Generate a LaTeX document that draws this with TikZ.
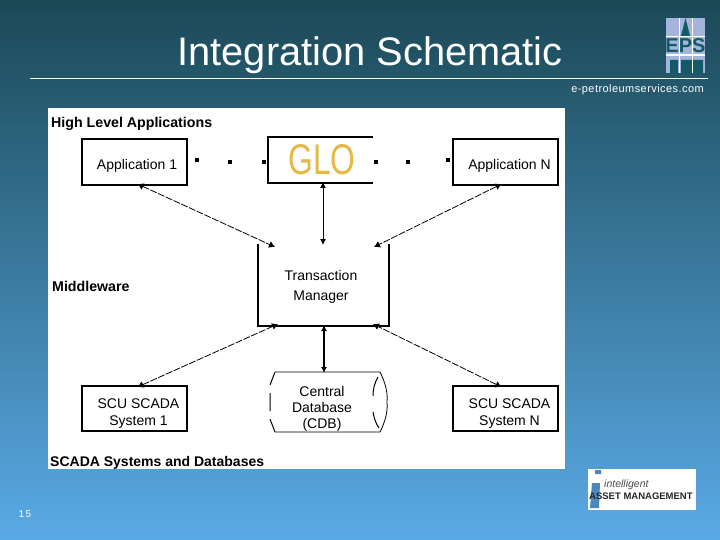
\documentclass[tikz,border=0pt]{standalone}
\usepackage{fontspec}
\setmainfont{Liberation Sans}
\usetikzlibrary{arrows.meta}
\definecolor{bgtop}{RGB}{27,73,86}
\definecolor{bgmid}{RGB}{58,122,165}
\definecolor{bgbot}{RGB}{90,170,230}
\definecolor{glo}{RGB}{230,185,70}
\definecolor{epsl}{RGB}{165,180,220}
\definecolor{epsd}{RGB}{20,90,100}
\definecolor{iamb}{RGB}{75,135,190}
\tikzset{
  x=1pt,y=-1pt,
  box/.style={draw=black,line width=1.3pt,fill=white,inner sep=0pt,outer sep=0pt,minimum width=105pt,minimum height=46pt,align=center,font=\fontsize{14}{17}\selectfont},
  lay/.style={anchor=west,inner sep=0pt,font=\bfseries\fontsize{14.2}{16}\selectfont},
  twoway/.style={line width=0.8pt,{Latex[length=6pt,width=7pt]}-{Latex[length=6pt,width=7pt]},dash pattern=on 7pt off 1.5pt},
  solidway/.style={line width=0.9pt,{Latex[length=6pt,width=6pt]}-{Latex[length=6pt,width=6pt]}},
  dotmark/.style={fill=black,inner sep=0pt,minimum width=3.5pt,minimum height=4.5pt},
  boxtext/.style={inner sep=0pt,align=center,font=\fontsize{14}{17}\selectfont}
}
\begin{document}
\begin{tikzpicture}
\useasboundingbox (0,0) rectangle (720,540);
\shade[top color=bgtop,middle color=bgmid,bottom color=bgbot] (0,0) rectangle (720,540);
\node[text=white,font=\fontsize{39.8}{42}\selectfont,inner sep=0pt] (title) at (370,55) {Integration Schematic};
\coordinate (rl) at (30,78); \coordinate (rr) at (708,78);
\draw[white,line width=0.7pt] (rl) -- (rr);
\node[text=white,font=\fontsize{11}{12}\selectfont,inner sep=0pt,anchor=east] (web) at (704,90) {\addfontfeature{LetterSpace=4}e-petroleumservices.com};
% EPS logo
\fill[epsl] (666,18) rectangle (705,73);
\fill[epsd] (685.5,18) -- (690,36) -- (681,36) -- cycle;
\node[text=epsd,font=\bfseries\fontsize{20}{22}\selectfont,inner sep=0pt] (eps) at (685.5,45.5) {EPS};
\fill[epsd] (670,60) rectangle (678,73) (681,60) rectangle (692,73) (693,60) rectangle (703,73);
\draw[white,line width=0.8pt] (679,18) -- (679,73) (692,18) -- (692,73) (666,36) -- (705,36);
\draw[white,line width=1.2pt] (666,55) -- (705,55);
% white panel
\fill[white] (48,108) rectangle (565,469);
\node[lay] (high) at (51,124) {High Level Applications};
\node[lay] (mid) at (52,286) {Middleware};
\node[lay,font=\bfseries\fontsize{14}{16}\selectfont] (low) at (50,463) {SCADA Systems and Databases};
% boxes
\node[box] (app1) at (134.5,162) {};
\node[boxtext] (app1t) at (137,166) {Application 1};
\node[box] (appn) at (505.5,162) {};
\node[boxtext] (appnt) at (509.5,166) {Application N};
\node[box,draw=none,minimum width=105pt] (glob) at (320.5,160) {};
\node[inner sep=0pt,text=glo] (globt) at (322,160) {\scalebox{0.74}[1]{\fontsize{43}{44}\selectfont GLO}};
\draw[line width=1.2pt] (glob.north east) -- (glob.north west) -- (glob.south west) -- (glob.south east);
\node[box,draw=none,minimum width=131pt,minimum height=82pt] (tm) at (323.5,285) {};
\node[boxtext] (tmt) at (321,286.5) {Transaction\\[3pt]Manager};
\draw[line width=1.4pt] (tm.north west) -- (tm.south west) -- (tm.south east) -- (tm.north east);
\node[box,minimum height=45pt] (scu1) at (134.5,408.5) {};
\node[boxtext] (scu1t) at (138.5,414) {SCU SCADA\\System 1};
\node[box,minimum height=45pt] (scun) at (505.5,408.5) {};
\node[boxtext] (scunt) at (509.5,414) {SCU SCADA\\System N};
\node[inner sep=0pt,outer sep=0pt,minimum width=117pt,minimum height=60pt] (cdb) at (328.5,402) {};
\node[boxtext,font=\fontsize{14}{16.3}\selectfont] (cdbt) at (322,409) {Central\\Database\\(CDB)};
\draw[line width=0.8pt] (275,372) -- (380,372) .. controls (385,382) and (388,392) .. (387,402) .. controls (388,412) and (385,422) .. (380,432) -- (275,432);
\draw[line width=1pt] (275,372) -- (270,385) (270,393) -- (270,411) (270,419) -- (275,432);
\draw[line width=1pt] (378,377) .. controls (374,384) and (373,390) .. (373,396) (373,412) .. controls (374,418) and (376,424) .. (379,428);
% dots
\node[dotmark] (d1) at (197,160) {};
\node[dotmark] (d2) at (230,162) {};
\node[dotmark] (d3) at (264,162) {};
\node[dotmark] (d4) at (376,162) {};
\node[dotmark] (d5) at (408,162) {};
\node[dotmark] (d6) at (448,160) {};
% connectors
\draw[twoway] ([xshift=3pt,yshift=1pt]app1.south) -- ([xshift=17pt,yshift=-3pt]tm.north west);
\draw[twoway] ([xshift=-4pt,yshift=1pt]appn.south) -- ([xshift=-15pt,yshift=-3pt]tm.north east);
\draw[solidway] ([xshift=2.5pt,yshift=1pt]glob.south) -- ([xshift=-0.5pt,yshift=-1pt]tm.north);
\draw[twoway] ([xshift=3pt,yshift=-1pt]scu1.north) -- ([xshift=20pt,yshift=2pt]tm.south west);
\draw[twoway] ([xshift=-4pt,yshift=-1pt]scun.north) -- ([xshift=-16pt,yshift=2pt]tm.south east);
\draw[solidway,line width=1.2pt] ([xshift=0.5pt,yshift=1pt]tm.south) -- ([xshift=-4.5pt,yshift=-1pt]cdb.north);
% bottom logo
\fill[white] (588,469) rectangle (696,510);
\fill[iamb] (595,470) rectangle (601,474) (592,483) -- (600,483) -- (599,508) -- (590,508) -- cycle;
\node[font=\itshape\fontsize{10.5}{11}\selectfont,text=black!70,inner sep=0pt,anchor=west] (ii) at (604,485) {intelligent};
\node[font=\bfseries\fontsize{9.5}{10}\selectfont,text=black!85,inner sep=0pt,anchor=west] (am) at (589,496) {ASSET MANAGEMENT};
\node[text=white,font=\fontsize{10}{10}\selectfont,inner sep=0pt] (num) at (25,514) {\addfontfeature{LetterSpace=15}15};
\end{tikzpicture}
\end{document}
